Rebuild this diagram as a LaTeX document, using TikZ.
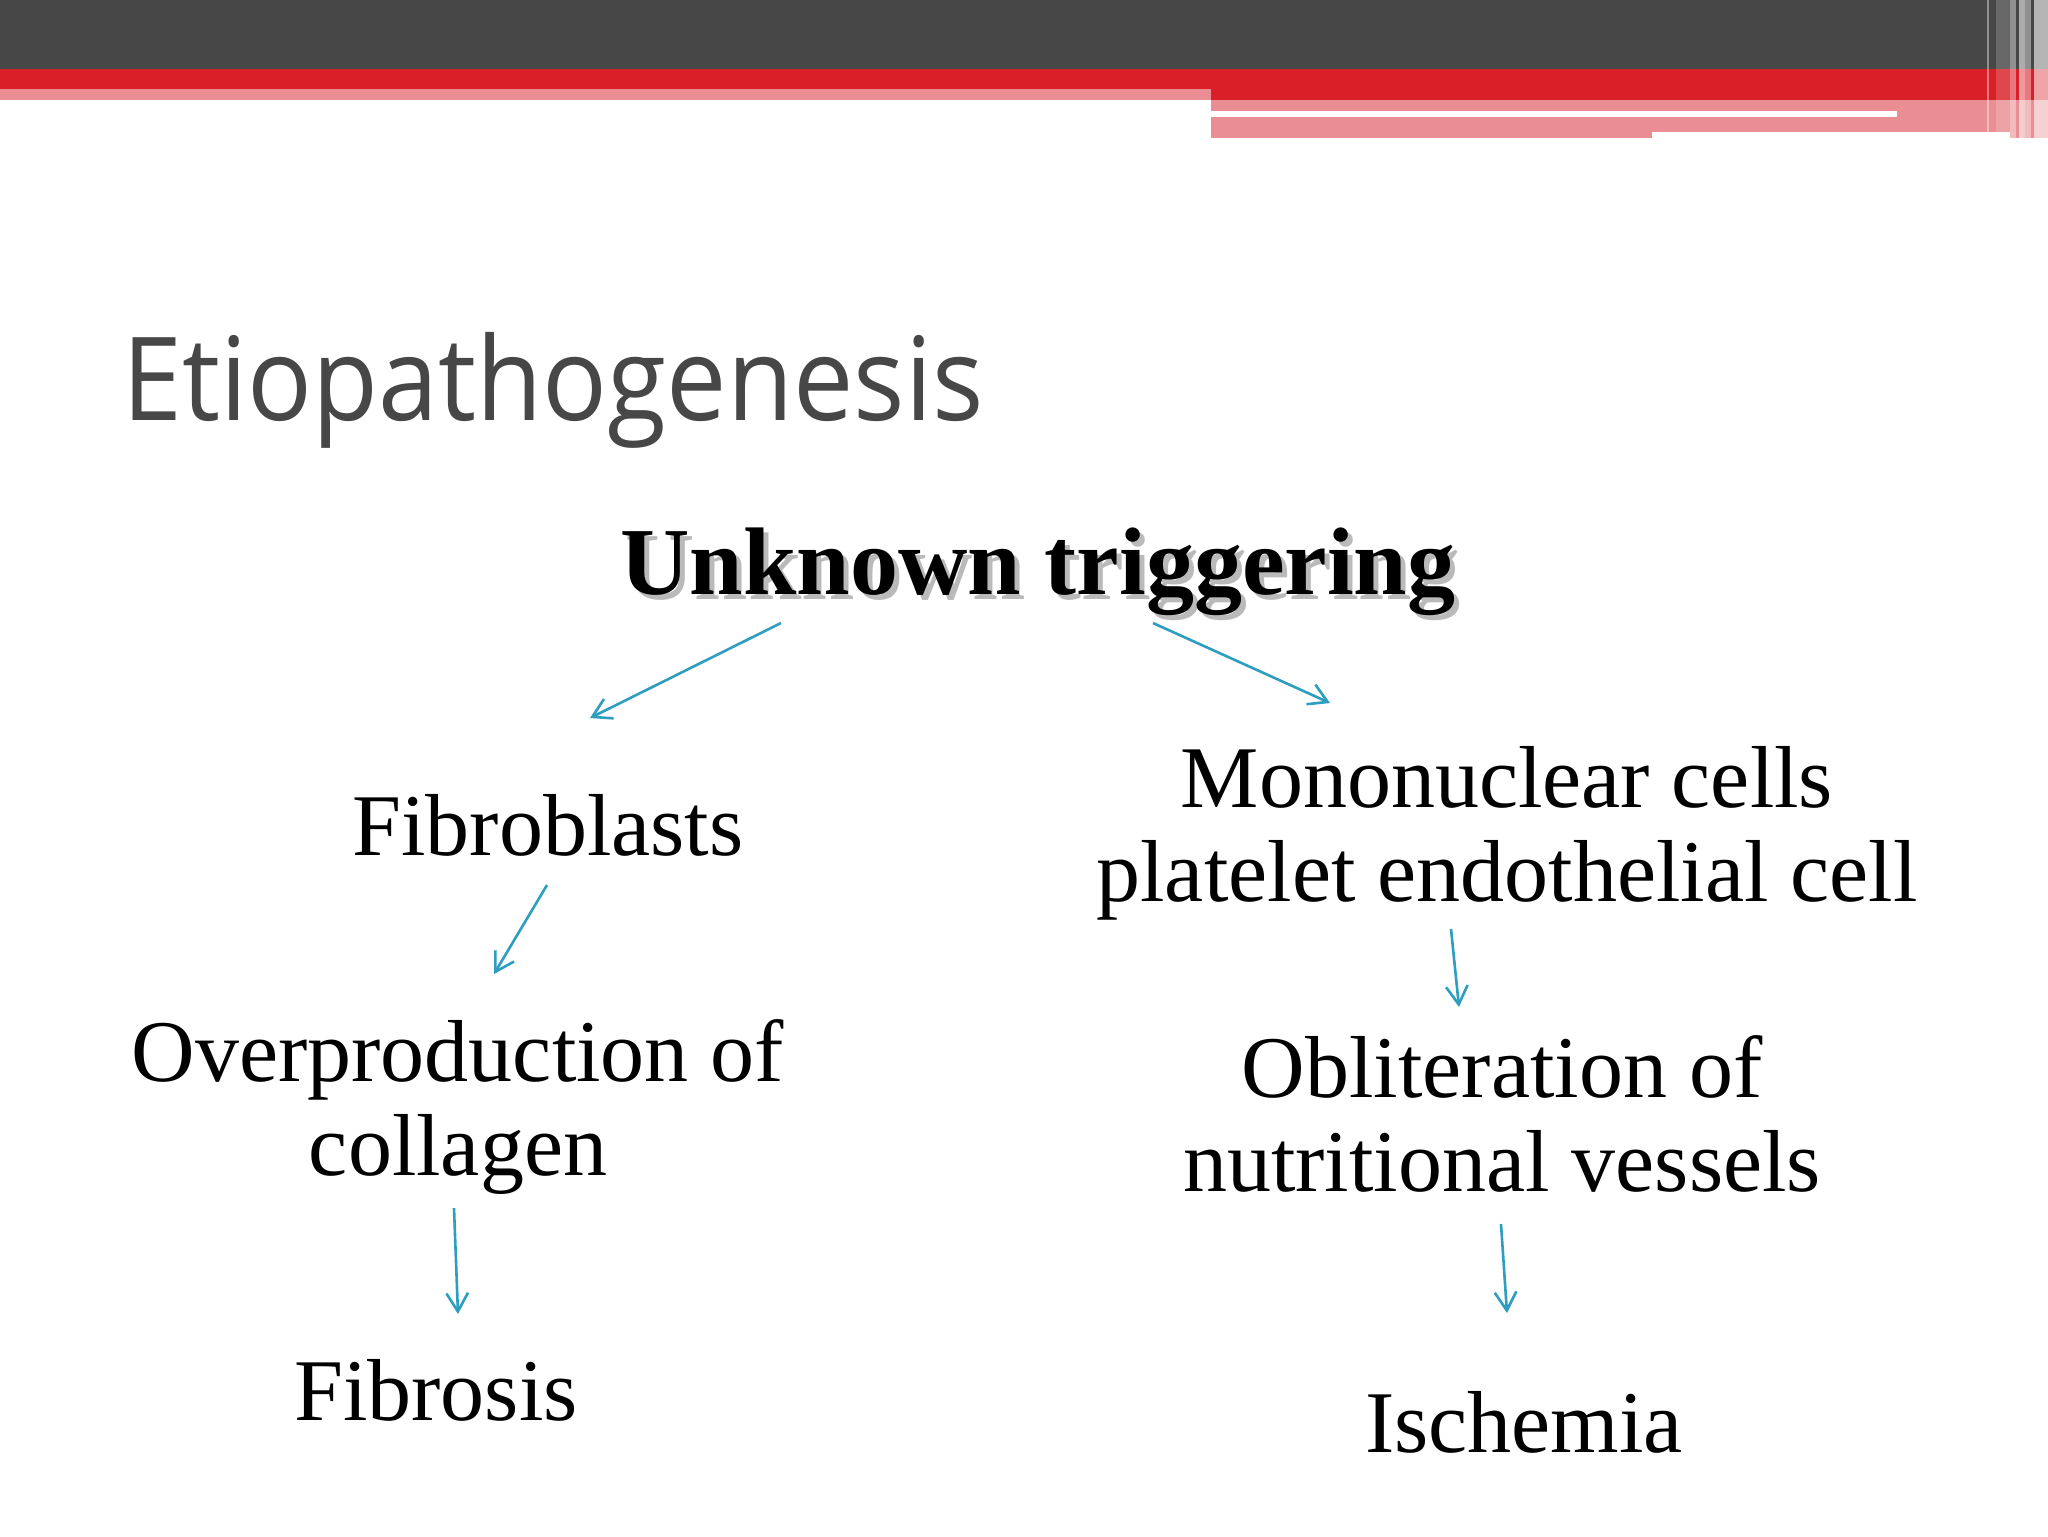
\documentclass[tikz,border=0pt]{standalone}
\usepackage{fontspec}
\setmainfont{Liberation Serif}
\newfontfamily\titlefont{Open Sans}
\usetikzlibrary{arrows.meta}
\definecolor{hdark}{HTML}{474747}
\definecolor{hred}{HTML}{D91F27}
\definecolor{hpink}{HTML}{EA8E93}
\definecolor{arrowc}{HTML}{2E9EC0}
\definecolor{titlec}{HTML}{474747}
\tikzset{
  body/.style={font=\fontsize{22}{23.5}\selectfont, align=center, inner sep=0pt, anchor=base},
  flow/.style={draw=arrowc, line width=0.65pt, -{Straight Barb[length=4.6pt,width=5.4pt]}},
  headfont/.style={font=\fontsize{24}{26}\selectfont\bfseries, inner sep=0pt, anchor=base},
}
\begin{document}
\begin{tikzpicture}[x=0.25pt,y=-0.25pt]
\useasboundingbox (0,0) rectangle (2048,1536);
\fill[white] (0,0) rectangle (2048,1536);
% header bars
\fill[hdark] (0,0) rectangle (2048,69);
\fill[hred] (0,69) rectangle (2048,100);
\fill[hpink] (0,89) rectangle (1211,100);
\fill[hpink] (1211,100) rectangle (2048,111);
\fill[hpink] (1211,117) rectangle (1652,138);
\fill[hpink] (1652,117) rectangle (2010,132);
\fill[hpink] (1897,111) rectangle (2048,117);
\fill[hpink] (2010,117) rectangle (2048,138);
% vertical stripes at right
\fill[white,opacity=0.4] (1987,0) rectangle (1989,132);
\fill[white,opacity=0.18] (1996,0) rectangle (2010,132);
\fill[white,opacity=0.4] (2010,0) rectangle (2016,138);
\fill[white,opacity=0.55] (2019,0) rectangle (2025,138);
\fill[white,opacity=0.4] (2025,0) rectangle (2031,138);
\fill[white,opacity=0.6] (2034,0) rectangle (2048,138);
% title
\node[text=titlec, font=\titlefont\fontsize{29}{32}\selectfont, inner sep=0pt, anchor=base west, xscale=0.928] (title) at (122,420) {Etiopathogenesis};
% head text with shadow
\node[headfont, text=black!45, opacity=0.6] (headshadow) at (1043,599) {Unknown triggering};
\node[headfont, text=black] (head) at (1038,594) {Unknown triggering};
% body nodes
\node[body] (fib) at (548,855) {Fibroblasts};
\node[body] (mono) at (1507,901) {Mononuclear cells\\platelet endothelial cell};
\node[body] (over) at (458,1175) {Overproduction of\\collagen};
\node[body] (obl) at (1502,1191) {Obliteration of\\nutritional vessels};
\node[body] (fibrosis) at (436,1420) {Fibrosis};
\node[body] (isch) at (1524,1452) {Ischemia};
% arrow end points
\coordinate (a1s) at (781,623);  \coordinate (a1e) at (590,718);
\coordinate (a2s) at (1153,623); \coordinate (a2e) at (1330,703);
\coordinate (a3s) at (547,885);  \coordinate (a3e) at (494,974);
\coordinate (a4s) at (1451,929); \coordinate (a4e) at (1459,1007);
\coordinate (a5s) at (454,1208); \coordinate (a5e) at (458,1314);
\coordinate (a6s) at (1501,1224); \coordinate (a6e) at (1507,1313);
\draw[flow] (a1s) -- (a1e);
\draw[flow] (a2s) -- (a2e);
\draw[flow] (a3s) -- (a3e);
\draw[flow] (a4s) -- (a4e);
\draw[flow] (a5s) -- (a5e);
\draw[flow] (a6s) -- (a6e);
\end{tikzpicture}
\end{document}
